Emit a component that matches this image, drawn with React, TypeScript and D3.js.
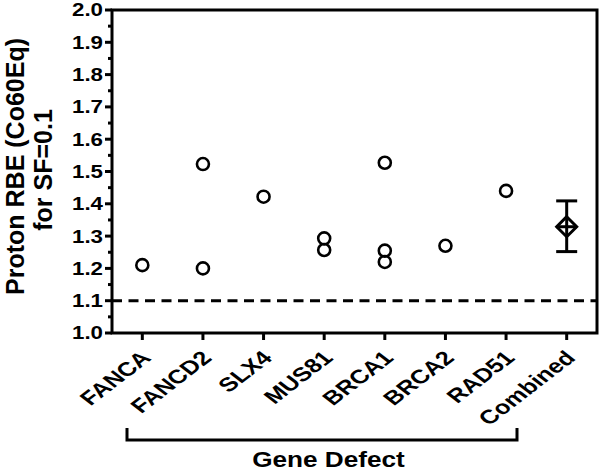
import React from 'react'
import * as d3 from 'd3'

// categories on the x axis
const genes = ['FANCA', 'FANCD2', 'SLX4', 'MUS81', 'BRCA1', 'BRCA2', 'RAD51', 'Combined']

// individual RBE values per gene defect
const pointGenes = ['FANCA', 'FANCD2', 'FANCD2', 'SLX4', 'MUS81', 'MUS81', 'BRCA1', 'BRCA1', 'BRCA1', 'BRCA2', 'RAD51']
const pointValues = [1.21, 1.523, 1.2, 1.422, 1.293, 1.257, 1.527, 1.255, 1.22, 1.27, 1.44]

// combined mean with error bar
const combinedMean = 1.329
const combinedLow = 1.252
const combinedHigh = 1.409

const yTicks = [1.0, 1.1, 1.2, 1.3, 1.4, 1.5, 1.6, 1.7, 1.8, 1.9, 2.0]
const yMinorTicks = [1.05, 1.15, 1.25, 1.35, 1.45, 1.55, 1.65, 1.75, 1.85, 1.95]
const referenceLine = 1.1

export default function App() {
  const width = 600,
    height = 474
  const left = 112,
    right = 597,
    top = 10,
    bottom = 333

  const x = d3.scalePoint<string>().domain(genes).range([left, right]).padding(0.5)
  const y = d3.scaleLinear().domain([1.0, 2.0]).range([bottom, top])

  const font = 'Liberation Sans, Arial, Helvetica, sans-serif'
  const cx = x('Combined') as number
  const cy = y(combinedMean)
  const d = 10 // diamond half size
  const cap = 10.5 // error bar cap half width

  return (
    <svg width={width} height={height} style={{ position: 'absolute', left: 0, top: 0 }}>
      <rect width={width} height={height} fill="#fff" />
      {/* frame */}
      <rect x={left} y={top} width={right - left} height={bottom - top} fill="none" stroke="#000" strokeWidth={3} />

      {/* y ticks */}
      {yTicks.map(t => (
        <g key={t} transform={`translate(${left}, ${y(t)})`}>
          <line x1={-7} x2={0} stroke="#000" strokeWidth={3} />
          <text
            transform="translate(-9, 0) scale(1.24, 1)"
            dy="0.36em"
            textAnchor="end"
            fontFamily={font}
            fontWeight="bold"
            fontSize={18}
          >
            {t.toFixed(1)}
          </text>
        </g>
      ))}
      {yMinorTicks.map(t => (
        <line key={t} x1={left - 4} x2={left} y1={y(t)} y2={y(t)} stroke="#000" strokeWidth={3} />
      ))}

      {/* x ticks and labels */}
      {genes.map(g => (
        <g key={g} transform={`translate(${x(g)}, ${bottom})`}>
          <line y1={0} y2={7} stroke="#000" strokeWidth={3} />
          <text
            transform="translate(10, 26) scale(1.3, 1) rotate(-45)"
            textAnchor="end"
            fontFamily={font}
            fontWeight="bold"
            fontSize={19.5}
          >
            {g}
          </text>
        </g>
      ))}

      {/* reference line */}
      <line
        x1={left}
        x2={right}
        y1={y(referenceLine)}
        y2={y(referenceLine)}
        stroke="#000"
        strokeWidth={3}
        strokeDasharray="10,6.5"
      />

      {/* individual points */}
      {pointValues.map((v, i) => (
        <circle key={i} cx={x(pointGenes[i])} cy={y(v)} r={6} fill="none" stroke="#000" strokeWidth={2.6} />
      ))}

      {/* combined mean with error bar */}
      <g stroke="#000" strokeWidth={3} fill="none">
        <line x1={cx} x2={cx} y1={y(combinedHigh)} y2={y(combinedLow)} />
        <line x1={cx - cap} x2={cx + cap} y1={y(combinedHigh)} y2={y(combinedHigh)} />
        <line x1={cx - cap} x2={cx + cap} y1={y(combinedLow)} y2={y(combinedLow)} />
        <path d={`M${cx},${cy - d}L${cx + d},${cy}L${cx},${cy + d}L${cx - d},${cy}Z`} fill="#fff" />
        <line x1={cx - d} x2={cx + d} y1={cy} y2={cy} />
        <line x1={cx} x2={cx} y1={cy - d} y2={cy + d} />
      </g>

      {/* bracket and x title */}
      <path d="M127,428V440H517V428" fill="none" stroke="#000" strokeWidth={3} />
      <text
        transform="translate(328.5, 467) scale(1.2, 1)"
        textAnchor="middle"
        fontFamily={font}
        fontWeight="bold"
        fontSize={21.8}
      >
        Gene Defect
      </text>

      {/* y title */}
      <text transform="translate(24, 166.5) rotate(-90)" textAnchor="middle" fontFamily={font} fontWeight="bold" fontSize={25}>
        Proton RBE (Co60Eq)
      </text>
      <text transform="translate(52, 170) rotate(-90)" textAnchor="middle" fontFamily={font} fontWeight="bold" fontSize={25}>
        for SF=0.1
      </text>
    </svg>
  )
}
